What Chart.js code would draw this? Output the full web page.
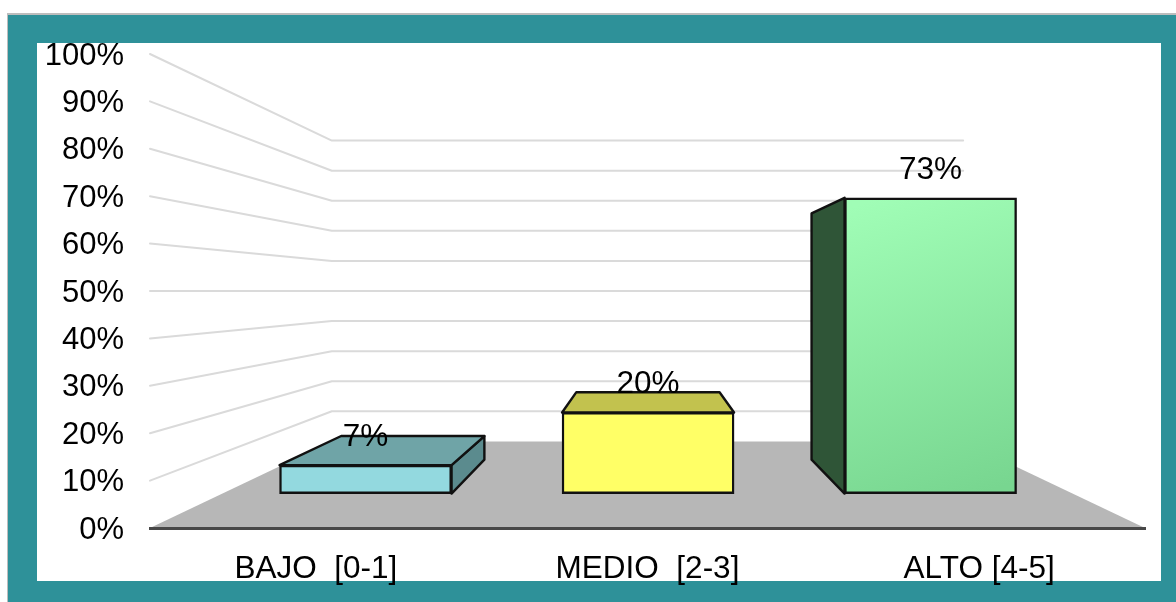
<!DOCTYPE html>
<html><head><meta charset="utf-8">
<style>html,body{margin:0;padding:0;background:#fff;overflow:hidden}canvas{display:block}</style>
<script src="https://cdn.jsdelivr.net/npm/chart.js@4"></script>
</head><body>
<div style="width:1176px;height:602px"><canvas id="c" width="1176" height="602"></canvas></div>
<script>
const categories = ['BAJO  [0-1]', 'MEDIO  [2-3]', 'ALTO [4-5]'];
const values = [7, 20, 73];
const frontColors = ['#93d9df', '#ffff66', null];
const topColors = ['#6fa4a7', '#c2c24e', '#6fa56f'];
const sideColors = ['#5b8b8e', '#8a8a3a', '#2f5537'];
const axisMin = 0, axisMax = 100, axisStep = 10;

const FRAME = '#2e9199', WALL = '#dadada', FLOOR = '#b7b7b7', FONT = 'Liberation Sans, Arial, sans-serif';
const BACK = 0.3655, BAR_DEPTH = 0.1675, VP_VALUE = 50;

function frame(ctx, W, H) {
  ctx.fillStyle = '#bdbdbd'; ctx.fillRect(7, 13, W - 7, H - 13);
  ctx.fillStyle = FRAME; ctx.fillRect(8, 15, W - 8, H - 15);
  ctx.fillStyle = '#fff'; ctx.fillRect(37, 43, 1124, 538);
}
function poly(ctx, pts, fill, stroke) {
  ctx.beginPath();
  pts.forEach((p, i) => i ? ctx.lineTo(p[0], p[1]) : ctx.moveTo(p[0], p[1]));
  ctx.closePath();
  ctx.fillStyle = fill; ctx.fill();
  if (stroke) { ctx.strokeStyle = stroke; ctx.lineWidth = 2.4; ctx.lineJoin = 'round'; ctx.stroke(); }
}
const scene = {
  id: 'scene',
  beforeDraw(chart) {
    const ctx = chart.ctx, y = chart.scales.y, a = chart.chartArea;
    const vx = (a.left + a.right) / 2, vy = y.getPixelForValue(VP_VALUE);
    const back = (px, py) => [px + (vx - px) * BACK, py + (vy - py) * BACK];
    ctx.save();
    frame(ctx, chart.width, chart.height);
    const y0 = y.getPixelForValue(0);
    const bl = back(a.left, y0), br = back(a.right, y0);
    poly(ctx, [[a.left, y0], [a.right, y0], br, bl], FLOOR);
    ctx.strokeStyle = WALL; ctx.lineWidth = 2; ctx.lineJoin = 'round'; ctx.lineCap = 'round';
    y.ticks.forEach(t => {
      if (t.value === 0) return;
      const py = y.getPixelForValue(t.value);
      const b = back(a.left, py);
      ctx.beginPath(); ctx.moveTo(a.left, py); ctx.lineTo(b[0], b[1]); ctx.lineTo(br[0], b[1]); ctx.stroke();
    });
    ctx.restore();
  },
  beforeDatasetsDraw(chart) {
    const ctx = chart.ctx, y = chart.scales.y, a = chart.chartArea;
    const vx = (a.left + a.right) / 2, vy = y.getPixelForValue(VP_VALUE);
    const d = (p) => [p[0] + (vx - p[0]) * BAR_DEPTH, p[1] + (vy - p[1]) * BAR_DEPTH];
    ctx.save();
    chart.getDatasetMeta(0).data.forEach((el, i) => {
      const p = el.getProps(['x', 'y', 'base', 'width'], true);
      const l = p.x - p.width / 2, r = p.x + p.width / 2;
      if (r < vx) poly(ctx, [[r, p.y], d([r, p.y]), d([r, p.base]), [r, p.base]], sideColors[i], '#111');
      if (l > vx) poly(ctx, [[l, p.y], d([l, p.y]), d([l, p.base]), [l, p.base]], sideColors[i], '#111');
      if (p.y > vy) poly(ctx, [[l, p.y], [r, p.y], d([r, p.y]), d([l, p.y])], topColors[i], '#111');
    });
    ctx.restore();
  },
  afterDatasetsDraw(chart) {
    const ctx = chart.ctx;
    ctx.save();
    ctx.font = '31.5px ' + FONT; ctx.fillStyle = '#000'; ctx.textAlign = 'center'; ctx.textBaseline = 'middle';
    chart.getDatasetMeta(0).data.forEach((el, i) => {
      const p = el.getProps(['x', 'y'], true);
      ctx.fillText(values[i] + '%', p.x, p.y - 28);
    });
    ctx.fillStyle = FRAME; ctx.fillRect(37, 15, 1124, 28);
    ctx.restore();
  }
};
function barFill(c) {
  const col = frontColors[c.dataIndex];
  if (col) return col;
  const s = c.chart.scales.y2;
  const g = c.chart.ctx.createLinearGradient(880, s.getPixelForValue(values[c.dataIndex]), 980, s.getPixelForValue(0));
  g.addColorStop(0, '#a0fdb6'); g.addColorStop(1, '#78d690');
  return g;
}
new Chart(document.getElementById('c'), {
  type: 'bar',
  plugins: [scene],
  data: {
    datasets: [{
      data: values.map((v, i) => ({ x: i, y: v })),
      xAxisID: 'x2', yAxisID: 'y2',
      backgroundColor: barFill, borderColor: '#111', borderWidth: 2.4, borderSkipped: false,
      barThickness: 172
    }]
  },
  options: {
    responsive: false, animation: false, events: [],
    layout: { padding: { left: 0, top: 54, right: 31, bottom: 0 } },
    plugins: { legend: { display: false }, tooltip: { enabled: false }, title: { display: false } },
    scales: {
      x: {
        type: 'category', labels: categories, position: 'bottom',
        afterFit(s) { s.height = 74; },
        grid: { display: true, drawOnChartArea: false, drawTicks: false },
        border: { display: true, color: '#484848', width: 3 },
        ticks: { color: '#000', font: { family: FONT, size: 31.5 }, padding: 22, maxRotation: 0, autoSkip: false }
      },
      y: {
        type: 'linear', position: 'left', min: axisMin, max: axisMax,
        afterFit(s) { s.width = 150; },
        grid: { display: false, drawTicks: false },
        border: { display: false },
        ticks: { stepSize: axisStep, color: '#000', font: { family: FONT, size: 31 }, padding: 26, labelOffset: 2, callback: v => v + '%' }
      },
      x2: { type: 'linear', axis: 'x', display: false, offset: false, min: -0.763, max: 2.759 },
      y2: { type: 'linear', axis: 'y', display: false, min: -8.5, max: 108.5 }
    }
  }
});
</script>
</body></html>
